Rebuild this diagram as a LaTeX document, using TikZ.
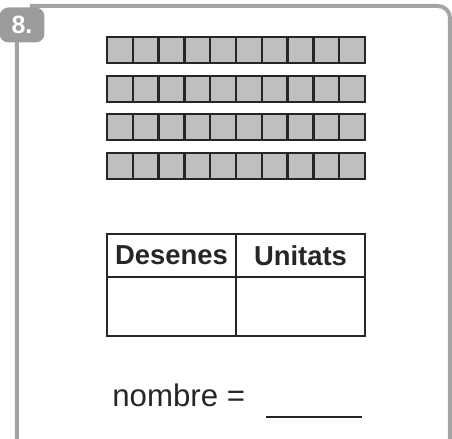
\documentclass[tikz,border=0pt]{standalone}
\usepackage{fontspec}
\setmainfont{Liberation Sans}
\usepackage{tikz}
\usetikzlibrary{positioning}
\definecolor{EXFrame}{HTML}{A4A4A4}
\definecolor{EXBadge}{HTML}{9C9C9C}
\definecolor{EXBlock}{HTML}{BEBFC1}
\definecolor{EXInk}{HTML}{262626}
\tikzset{
  frame/.style={draw=EXFrame,line width=2pt,rounded corners=6pt},
  badge/.style={fill=EXBadge,rounded corners=4.5pt,minimum width=22.5pt,minimum height=17.5pt,
                text=white,font=\fontsize{12.5}{14}\selectfont\bfseries,inner sep=0pt},
  unit/.style={draw=EXInk,fill=EXBlock,line width=1.2pt,minimum size=12.9pt,inner sep=0pt},
  headcell/.style={draw=EXInk,line width=1pt,minimum width=64.5pt,minimum height=21.5pt,
                   inner sep=0pt,outer sep=0pt,text=EXInk,font=\fontsize{13.7}{16}\selectfont\bfseries},
  bodycell/.style={draw=EXInk,line width=1pt,minimum width=64.5pt,minimum height=29.5pt,
                   inner sep=0pt,outer sep=0pt},
  answer/.style={text=EXInk,font=\fontsize{15.6}{18}\selectfont,inner sep=0pt,anchor=base west},
}
\begin{document}
\begin{tikzpicture}[x=.5pt,y=.5pt]
    \useasboundingbox (0,0) rectangle (452,439);

    % card border, open at the bottom
    \draw[frame] (17,-10) -- (17,400) (30,433) -- (450,433) -- (450,-10);
    \node[badge] (num) at (22,414) {8.};

    % four tens
    \foreach \r/\y in {1/389,2/350,3/312,4/273}
      \foreach \c in {1,...,10}
        \node[unit] (u-\r-\c) at ({107+12.9+25.8*(\c-1)},\y) {};

    % place value table
    \node[headcell] (des) at (171.5,183.5) {Desenes};
    \node[headcell] (uni) at (300.5,183.5) {Unitats};
    \node[bodycell,below=0pt of des] (desv) {};
    \node[bodycell,below=0pt of uni] (univ) {};

    \node[answer] (nombre) at (112,32) {nombre =};
    \node[minimum width=48pt,minimum height=8pt,inner sep=0pt] (blank) at (314,30) {};
    \draw[EXInk,line width=1pt] (blank.south west) -- (blank.south east);
  \end{tikzpicture}
\end{document}
